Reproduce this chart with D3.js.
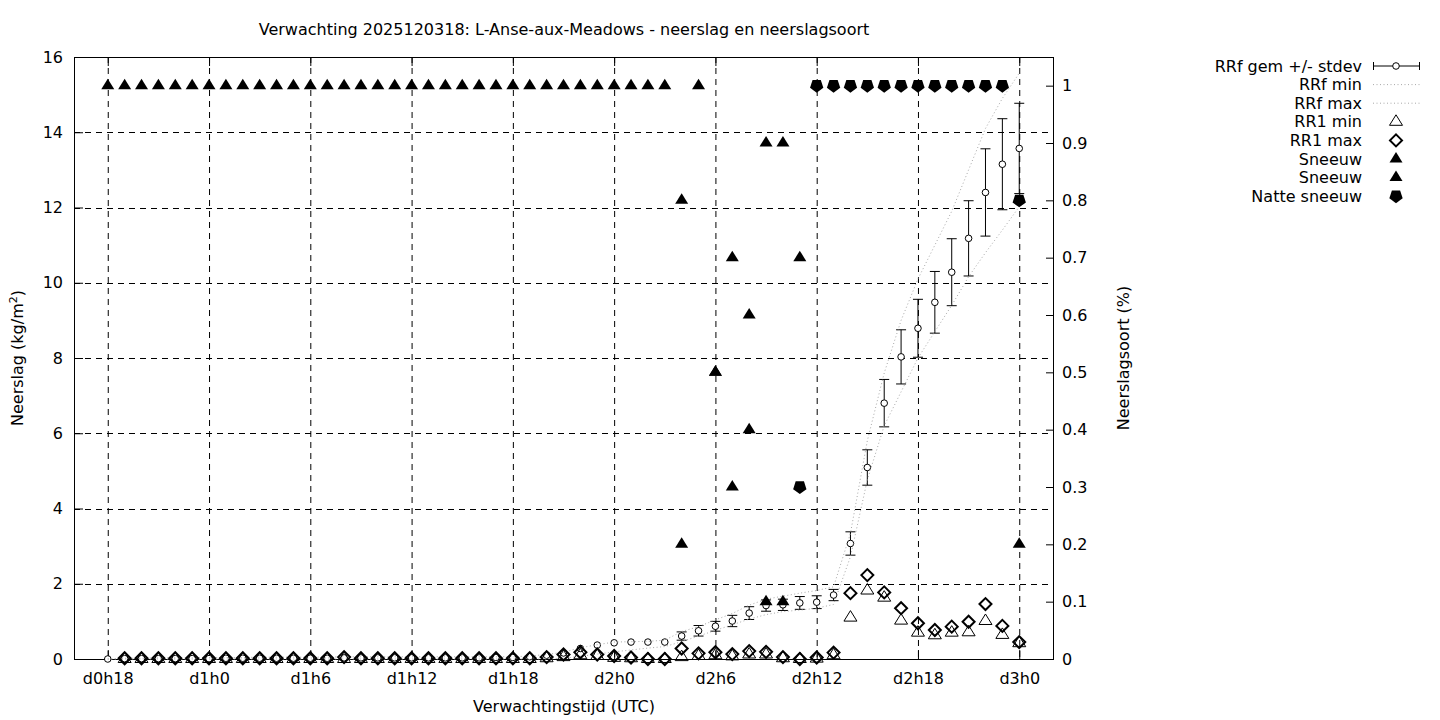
<!DOCTYPE html>
<html><head><meta charset="utf-8">
<script src="https://cdn.jsdelivr.net/npm/d3@7"></script>
<style>
body{margin:0;background:#fff}
text{font-family:"DejaVu Sans",sans-serif;font-size:16px;fill:#000}
</style>
</head><body>
<svg id="chart" width="1440" height="720"></svg>
<script>
// hours since d0h0, one value per hour from d0h18 to d3h0
const hours = d3.range(18, 73);
const tickHours = [18, 24, 30, 36, 42, 48, 54, 60, 66, 72];
const tickLabels = ["d0h18","d1h0","d1h6","d1h12","d1h18","d2h0","d2h6","d2h12","d2h18","d3h0"];
const leftTicks = [0,2,4,6,8,10,12,14,16];
const rightTicks = [0,0.1,0.2,0.3,0.4,0.5,0.6,0.7,0.8,0.9,1];

const rrfMean = [0, 0.01,0.01,0.01,0.01,0.01,0.01, 0.02,0.02,0.02,0.02,0.02,0.02,0.02,
  0.03,0.03,0.03,0.03,0.03,0.03,0.03,0.03,0.03, 0.04,0.04,
  0.06,0.10,0.16,0.28,0.37,0.43,0.45,0.45,0.45,
  0.61,0.75,0.87,1.01,1.22,1.42,1.44,1.49,1.51,1.70,
  3.07,5.09,6.80,8.03,8.79,9.48,10.28,11.18,12.40,13.15,13.57];
const rrfSd = [0,0,0,0,0,0,0,0,0,0,0,0,0,0,0,0,0,0,0,0,0,0,0,0,0,0,0,0,0,0,0,0,0,0,
  0.11,0.14,0.13,0.15,0.17,0.15,0.15,0.17,0.17,0.15,
  0.31,0.47,0.63,0.72,0.77,0.82,0.89,1.00,1.16,1.21,1.20];
const rrfMax = [0,0.02,0.02,0.03,0.03,0.03,0.04,0.04,0.04,0.05,0.05,0.05,0.05,0.05,
  0.06,0.06,0.06,0.06,0.06,0.06,0.06,0.06,0.06,0.06,0.06,
  0.08,0.12,0.18,0.30,0.38,0.45,0.46,0.47,0.50,
  0.73,0.86,1.04,1.21,1.43,1.59,1.67,1.75,1.82,1.92,
  3.34,5.8,7.6,9.0,10.1,11.0,11.9,13.0,14.1,14.9,15.57];
const rrfMin = [0,0,0,0,0,0,0,0,0,0,0,0,0,0,0,0,0,0,0,0,0,0,0,0,0,0,0,
  0.02,0.07,0.13,0.19,0.24,0.29,0.33,
  0.46,0.61,0.76,0.91,1.06,1.18,1.26,1.30,1.35,1.45,
  2.72,4.76,6.2,7.1,8.0,8.7,9.4,10.16,10.8,11.4,12.02];
const rr1Min = [null, 0,0,0,0,0,0,0,0,0,0,0,0,0,0,0,0,0,0,0,0,0,0,0,0,0,
  0.02,0.05,0.10,0.08,0.03,0.02,0,0,
  0.05,0.08,0.10,0.07,0.12,0.12,0.02,0,0.01,0.10,
  1.10,1.82,1.63,1.02,0.70,0.63,0.70,0.71,1.01,0.64,0.42];
const rr1Max = [null, 0.02,0.02,0.02,0.02,0.02,0.02,0.02,0.02,0.02,0.02,0.02,0.02,0.02,
  0.05, 0.02,0.02,0.02,0.02,0.02,0.02,0.02,0.02,0.02,0.02,0.02,
  0.05,0.12,0.18,0.12,0.08,0.04,0,0,
  0.28,0.15,0.18,0.13,0.21,0.19,0.05,0,0.04,0.17,
  1.75,2.23,1.77,1.35,0.95,0.77,0.86,0.99,1.46,0.88,0.45];
const sneeuwA = [1,1,1,1,1,1,1,1,1,1,1,1,1,1,1,1,1,1,1,1,1,1,1,1,1,1,1,1,1,1,1,1,1,1,
  0.8,1,0.5,0.7,0.6,0.9,0.9,0.7,
  null,null,null,null,null,null,null,null,null,null,null,null, 0.2];
const sneeuwB = [null,null,null,null,null,null,null,null,null,null,null,null,null,null,null,null,null,
  null,null,null,null,null,null,null,null,null,null,null,null,null,null,null,null,null,
  0.2,null,0.5,0.3,0.4,0.1,0.1,null,
  null,null,null,null,null,null,null,null,null,null,null,null,null];
const natteSneeuw = [null,null,null,null,null,null,null,null,null,null,null,null,null,null,null,null,null,
  null,null,null,null,null,null,null,null,null,null,null,null,null,null,null,null,null,
  null,null,null,null,null,null,null, 0.3,
  1,1,1,1,1,1,1,1,1,1,1,1, 0.8];

const svg = d3.select("#chart");
const L = 74, R = 1053, T = 57, B = 659;
const x = d3.scaleLinear().domain([16, 74]).range([L, R]);
const y = d3.scaleLinear().domain([0, 16]).range([B, T]);
const y2 = d3.scaleLinear().domain([0, 1.05]).range([B, T]);

// grid
const grid = svg.append("g").attr("stroke","#000").attr("stroke-width",1).attr("stroke-dasharray","6,5");
tickHours.forEach(h => grid.append("line").attr("x1",x(h)+0.5).attr("x2",x(h)+0.5).attr("y1",T).attr("y2",B));
leftTicks.slice(1,-1).forEach(v => grid.append("line").attr("x1",L).attr("x2",R).attr("y1",Math.round(y(v))+0.5).attr("y2",Math.round(y(v))+0.5));

// axes
function styleAxis(g){ g.select(".domain").remove(); g.selectAll("line").attr("stroke","#000"); g.selectAll("text").attr("font-family",null).attr("font-size",null); }
svg.append("g").attr("transform",`translate(${L},0)`)
  .call(d3.axisLeft(y).tickValues(leftTicks).tickSize(-9).tickPadding(11).tickFormat(d3.format("d"))).call(styleAxis);
svg.append("g").attr("transform",`translate(${R},0)`)
  .call(d3.axisRight(y2).tickValues(rightTicks).tickSize(-7).tickPadding(9).tickFormat(d => d===0?"0":d===1?"1":d.toFixed(1))).call(styleAxis);
svg.append("g").attr("transform",`translate(0,${B})`)
  .call(d3.axisBottom(x).tickValues(tickHours).tickSize(-9).tickPadding(14).tickFormat((d,i)=>tickLabels[i])).call(styleAxis);
svg.append("g").attr("transform",`translate(0,${T})`)
  .call(d3.axisTop(x).tickValues(tickHours).tickSize(-9).tickFormat("")).call(styleAxis);
svg.append("rect").attr("x",L+0.5).attr("y",T+0.5).attr("width",R-L).attr("height",B-T)
  .attr("fill","none").attr("stroke","#000").attr("stroke-width",1);

// labels
svg.append("text").attr("x",564).attr("y",35).attr("text-anchor","middle")
  .text("Verwachting 2025120318: L-Anse-aux-Meadows - neerslag en neerslagsoort");
svg.append("text").attr("x",564).attr("y",712).attr("text-anchor","middle").text("Verwachtingstijd (UTC)");
const yl = svg.append("text").attr("transform","translate(23,358) rotate(-90)").attr("text-anchor","middle");
yl.append("tspan").text("Neerslag (kg/m");
yl.append("tspan").attr("font-size","11px").attr("dy","-6").text("2");
yl.append("tspan").attr("dy","6").text(")");
svg.append("text").attr("transform","translate(1129,358) rotate(-90)").attr("text-anchor","middle").text("Neerslagsoort (%)");

// shapes
const triPath = "M0,-7L6.5,3.5L-6.5,3.5Z";
const diaPath = "M-6,0L0,-6L6,0L0,6Z";
const ps = 7;
const pentPath = "M"+[[-0.5878,-0.809],[0.5878,-0.809],[0.9511,0.309],[0,1],[-0.9511,0.309]].map(p=>(p[0]*ps).toFixed(2)+","+(p[1]*ps).toFixed(2)).join("L")+"Z";

const plot = svg.append("g");
// RRf mean +/- stdev
const mean = hours.map((h,i)=>({h, v:rrfMean[i], s:rrfSd[i]}));
const eb = plot.append("g").attr("stroke","#000").attr("stroke-width",1);
mean.filter(d=>d.s>0).forEach(d=>{
  const cx = x(d.h), y1 = y(d.v+d.s), y0 = y(d.v-d.s);
  eb.append("line").attr("x1",cx).attr("x2",cx).attr("y1",y1).attr("y2",y0);
  eb.append("line").attr("x1",cx-5).attr("x2",cx+5).attr("y1",y1).attr("y2",y1);
  eb.append("line").attr("x1",cx-5).attr("x2",cx+5).attr("y1",y0).attr("y2",y0);
});
plot.append("g").selectAll("circle").data(mean).join("circle")
  .attr("cx",d=>x(d.h)).attr("cy",d=>y(d.v)).attr("r",3.3).attr("fill","#fff").attr("stroke","#000").attr("stroke-width",1);

// RRf min / max dotted
const line = d3.line().x((d,i)=>x(hours[i])).y(d=>y(d));
[rrfMin, rrfMax].forEach(arr => plot.append("path").attr("d",line(arr)).attr("fill","none")
  .attr("stroke","#a8a8a8").attr("stroke-width",1).attr("stroke-dasharray","1,2.5"));

function markers(arr, path, scale, fill, sw){
  const data = hours.map((h,i)=>({h, v:arr[i]})).filter(d=>d.v!==null);
  plot.append("g").selectAll("path").data(data).join("path")
    .attr("transform",d=>`translate(${x(d.h)},${scale(d.v)})`).attr("d",path)
    .attr("fill",fill).attr("stroke",fill==="#fff"||fill==="none"?"#000":"none").attr("stroke-width",sw);
}
markers(rr1Min, triPath, y, "none", 1);
markers(rr1Max, diaPath, y, "none", 2);
markers(sneeuwA, triPath, y2, "#000", 0);
markers(sneeuwB, triPath, y2, "#000", 0);
markers(natteSneeuw, pentPath, y2, "#000", 0);

// legend
const legend = [
  {t:"RRf gem +/- stdev", k:"eb"},
  {t:"RRf min", k:"dot"},
  {t:"RRf max", k:"dot"},
  {t:"RR1 min", k:"tri"},
  {t:"RR1 max", k:"dia"},
  {t:"Sneeuw", k:"ftri"},
  {t:"Sneeuw", k:"ftri"},
  {t:"Natte sneeuw", k:"pent"}
];
const lg = svg.append("g");
legend.forEach((d,i)=>{
  const ry = 66 + i*18.6;
  lg.append("text").attr("x",1362).attr("y",ry+5.5).attr("text-anchor","end").text(d.t);
  const sx = 1396;
  if(d.k==="eb"){
    lg.append("line").attr("x1",1373).attr("x2",1420).attr("y1",ry).attr("y2",ry).attr("stroke","#000");
    lg.append("line").attr("x1",1373.5).attr("x2",1373.5).attr("y1",ry-4).attr("y2",ry+4).attr("stroke","#000");
    lg.append("line").attr("x1",1419.5).attr("x2",1419.5).attr("y1",ry-4).attr("y2",ry+4).attr("stroke","#000");
    lg.append("circle").attr("cx",sx).attr("cy",ry).attr("r",3.3).attr("fill","#fff").attr("stroke","#000");
  } else if(d.k==="dot"){
    lg.append("line").attr("x1",1373).attr("x2",1420).attr("y1",ry).attr("y2",ry)
      .attr("stroke","#a8a8a8").attr("stroke-dasharray","1,2.5");
  } else {
    const p = d.k==="dia"?diaPath:(d.k==="pent"?pentPath:triPath);
    const filled = d.k==="ftri"||d.k==="pent";
    lg.append("path").attr("transform",`translate(${sx},${ry})`).attr("d",p)
      .attr("fill",filled?"#000":"none").attr("stroke",filled?"none":"#000").attr("stroke-width",d.k==="dia"?2:1);
  }
});
</script>
</body></html>
